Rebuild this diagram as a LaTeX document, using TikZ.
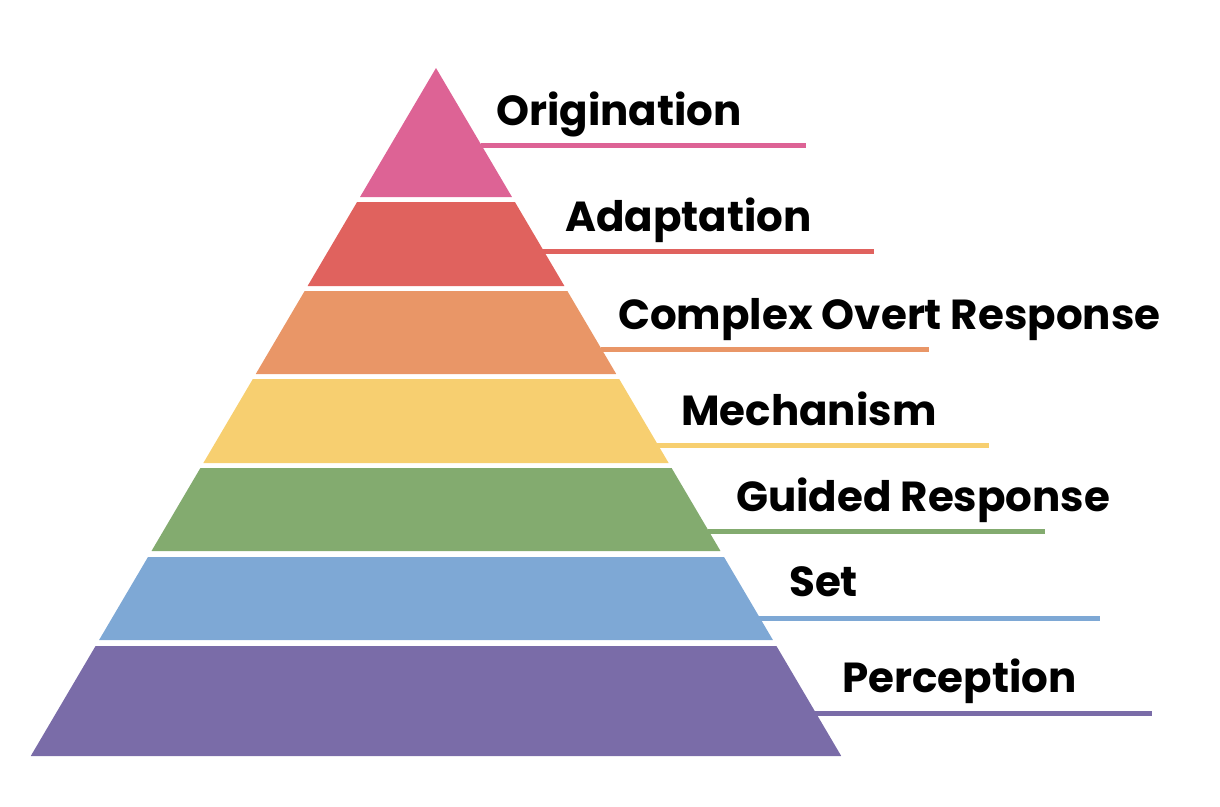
\documentclass[tikz,border=0pt]{standalone}
\usepackage{fontspec}
\setmainfont{Poppins}[BoldFont=* Bold]
\definecolor{cOrig}{RGB}{221,99,149}
\definecolor{cAdap}{RGB}{224,98,94}
\definecolor{cComp}{RGB}{233,150,103}
\definecolor{cMech}{RGB}{247,207,112}
\definecolor{cGuid}{RGB}{131,171,111}
\definecolor{cSet}{RGB}{126,168,213}
\definecolor{cPerc}{RGB}{122,108,168}
\tikzset{
  lvllabel/.style={anchor=base west, inner sep=0pt, font=\fontsize{42}{42}\selectfont\bfseries, text=black},
  lvlline/.style={line width=5pt},
}
\newcommand{\xl}[1]{436-(#1-68)*0.589}
\newcommand{\xr}[1]{436+(#1-68)*0.589}
\begin{document}
\begin{tikzpicture}[x=1pt,y=-1pt]
\useasboundingbox (0,0) rectangle (1220,806);
% apex band
\fill[cOrig] (436,68) -- ({\xr{197}},197) -- ({\xl{197}},197) -- cycle;
% trapezoid bands
\foreach \t/\b/\c in {202/286/cAdap,291/374/cComp,379/463/cMech,468/551/cGuid,557/640/cSet,646/756/cPerc}{
  \fill[\c] ({\xl{\t}},\t) -- ({\xr{\t}},\t) -- ({\xr{\b}},\b) -- ({\xl{\b}},\b) -- cycle;
}
% labels
\node[lvllabel] (orig) at (496,125) {Origination};
\node[lvllabel] (adap) at (565,231) {Adaptation};
\node[lvllabel] (comp) at (618,329) {Complex Overt Response};
\node[lvllabel] (mech) at (681,425) {Mechanism};
\node[lvllabel] (guid) at (736,511) {Guided Response};
\node[lvllabel] (set)  at (789,596) {Set};
\node[lvllabel] (perc) at (842,692) {Perception};
% leader lines
\foreach \name/\y/\e/\c in {orig/145.5/806/cOrig,adap/251.5/874/cAdap,comp/349.5/929/cComp,mech/445.5/989/cMech,guid/531.5/1045/cGuid,set/618/1100/cSet,perc/713.5/1152/cPerc}{
  \coordinate (\name-s) at ({\xr{\y}-1},\y);
  \coordinate (\name-e) at (\e,\y);
  \draw[lvlline,\c] (\name-s) -- (\name-e);
}
\end{tikzpicture}
\end{document}
